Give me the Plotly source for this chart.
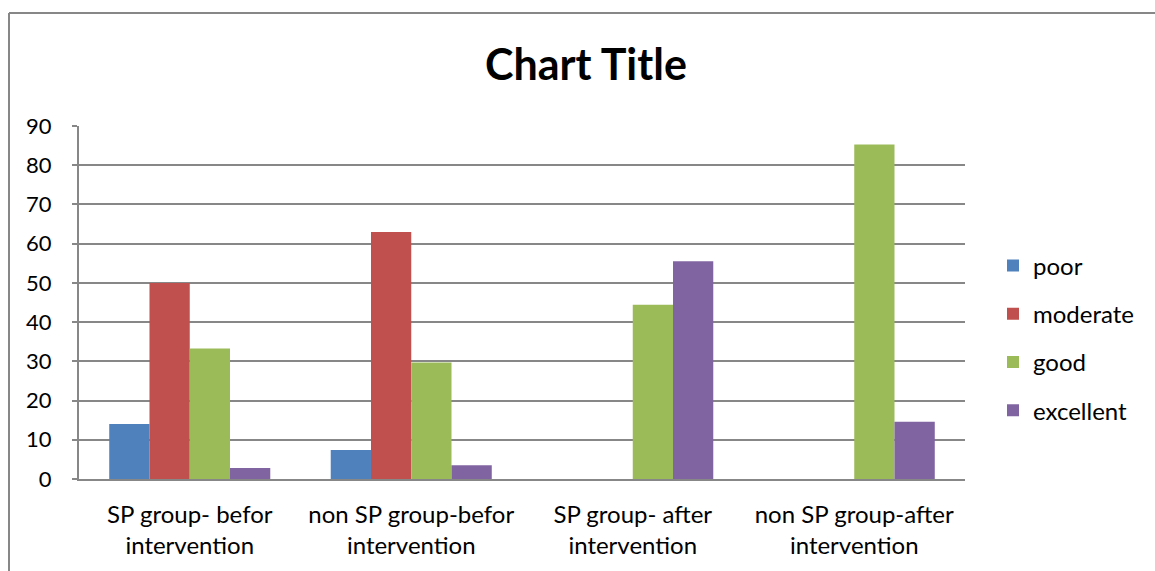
import plotly.graph_objects as go

categories = ["SP group- befor<br>intervention", "non SP group-befor<br>intervention",
              "SP group- after<br>intervention", "non SP group-after<br>intervention"]
series_names = ["poor", "moderate", "good", "excellent"]
poor = [14, 7.4, 0, 0]
moderate = [50, 63, 0, 0]
good = [33.3, 29.7, 44.4, 85.3]
excellent = [2.8, 3.5, 55.5, 14.6]
y_ticks = [0, 10, 20, 30, 40, 50, 60, 70, 80, 90]

colors = ["#4F81BD", "#C0504D", "#9BBB59", "#8064A2"]
values = [poor, moderate, good, excellent]

FONT = "Lato"
fig = go.Figure()
for name, vals, col in zip(series_names, values, colors):
    fig.add_trace(go.Bar(name=name, x=categories, y=vals, marker_color=col,
                         marker_line_width=0, legendgroup=name))

W, H = 1155, 571
L, R, T, B = 79, 190, 126, 92
pw, ph = W - L - R, H - T - B

def px_x(p):
    return (p - L) / pw

def px_y(p):
    return (H - B - p) / ph

gray = "#878787"
fig.update_layout(
    width=W, height=H,
    margin=dict(l=L, r=R, t=T, b=B, autoexpand=False),
    paper_bgcolor="white", plot_bgcolor="white",
    barmode="group", bargap=0.273, bargroupgap=0,
    font=dict(family=FONT, size=22, color="#000000"),
    title=dict(text="<b>Chart Title</b>", x=586 / W, y=1 - 65 / H,
               xanchor="center", yanchor="middle",
               font=dict(family=FONT, size=43, color="#000000")),
    legend=dict(x=px_x(993), y=px_y(338), xanchor="left", yanchor="middle",
                font=dict(family=FONT, size=24), tracegroupgap=14,
                itemwidth=30, bgcolor="rgba(0,0,0,0)"),
    xaxis=dict(showline=True, linecolor=gray, linewidth=2, ticks="",
               tickfont=dict(family=FONT, size=24), ticklabelstandoff=13),
    yaxis=dict(range=[0, 90], tickvals=y_ticks, showgrid=True, gridcolor=gray,
               gridwidth=2, showline=True, linecolor=gray, linewidth=2,
               ticks="outside", ticklen=5, tickcolor=gray, tickwidth=2,
               tickfont=dict(family=FONT, size=22), ticklabelstandoff=16,
               zeroline=False),
    showlegend=True,
)

# outer chart-area border (left and top, as in the picture)
fig.add_shape(type="line", xref="paper", yref="paper",
              x0=px_x(9), x1=px_x(9), y0=px_y(H + 5), y1=px_y(13),
              line=dict(color=gray, width=2))
fig.add_shape(type="line", xref="paper", yref="paper",
              x0=px_x(9), x1=px_x(W + 5), y0=px_y(13), y1=px_y(13),
              line=dict(color=gray, width=2))

fig.write_html("out.html")
